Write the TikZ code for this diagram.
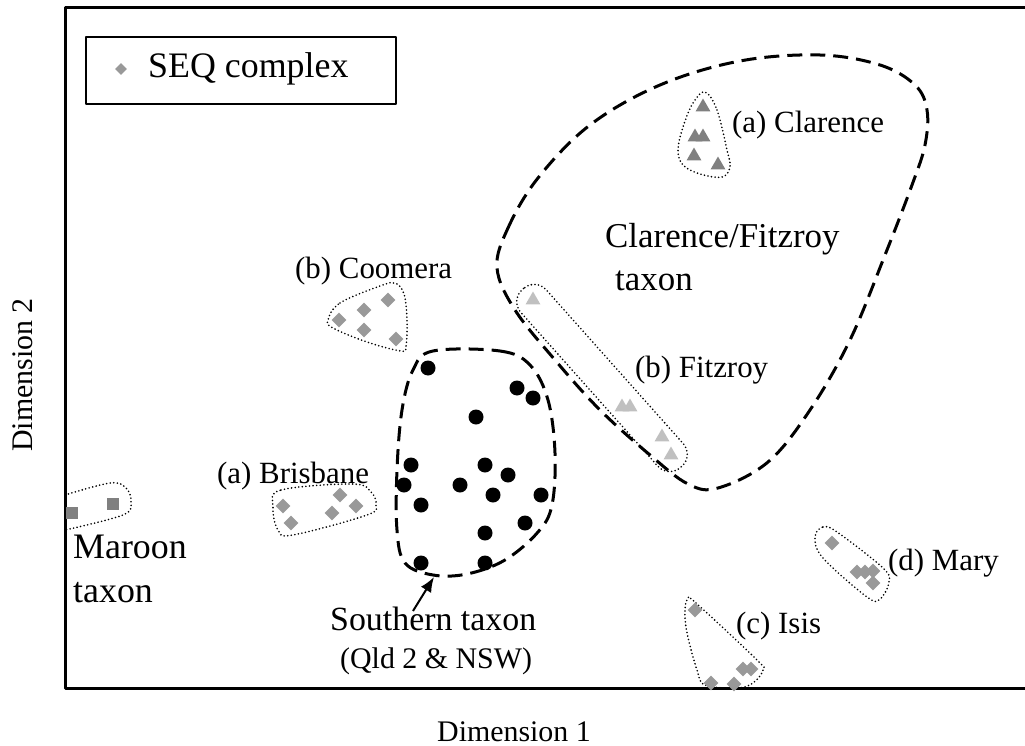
\documentclass[tikz,border=0pt]{standalone}
\usepackage{fontspec}
\setmainfont{Liberation Serif}
\usetikzlibrary{shapes.geometric,arrows.meta}
\definecolor{darkmark}{HTML}{808080}
\definecolor{midmark}{HTML}{999999}
\definecolor{lightmark}{HTML}{C0C0C0}
\tikzset{
  seqmark/.style={diamond,fill=midmark,inner sep=0pt,minimum size=15bp},
  trimark/.style={regular polygon,regular polygon sides=3,inner sep=0pt,minimum size=17bp},
  sqmark/.style={rectangle,fill=darkmark,inner sep=0pt,minimum size=12.5bp},
  dotmark/.style={circle,fill=black,inner sep=0pt,minimum size=15bp},
  grplbl/.style={anchor=base west,inner sep=0pt,font=\fontsize{31}{37}\selectfont},
  taxlbl/.style={anchor=base west,inner sep=0pt,font=\fontsize{35}{42}\selectfont},
  grpline/.style={line width=1.8bp,line cap=round,dash pattern=on 0bp off 3.6bp},
  taxline/.style={line width=3bp,dash pattern=on 15bp off 8bp},
}
\begin{document}
\begin{tikzpicture}[x=1bp,y=-1bp,>=latex,line join=round]
\useasboundingbox (0,0) rectangle (1025,746);
%% frame and legend
\draw [line width=3bp] (1025,8) -- (65,8) -- (65,688) -- (1025,688);
\node (legend) at (241,70.5) [draw,line width=2.5bp,minimum width=310bp,minimum height=67bp] {};
\node (legend_mark) at (121,69) [seqmark,minimum size=12bp] {};
\node (lbl_seq) at (148,78) [anchor=base west,inner sep=0pt,font=\fontsize{36}{43}\selectfont] {SEQ complex};
%% axis titles
\node (axis_x) at (437,741) [anchor=base west,inner sep=0pt,font=\fontsize{30}{36}\selectfont] {Dimension 1};
\node (axis_y) at (32,375) [anchor=base,rotate=90,inner sep=0pt,font=\fontsize{30}{36}\selectfont] {Dimension 2};
%% taxon outlines
\draw [taxline] plot [smooth cycle,tension=0.6] coordinates {(497,268) (508,228) (538,178) (590,125) (660,85) (740,61) (820,55) (880,65) (915,85) (927,110) (925,145) (912,185) (885,255) (850,340) (810,410) (768,462) (718,488) (688,484) (650,455) (600,410) (555,360) (515,310)};
\draw [taxline] plot [smooth cycle,tension=0.6] coordinates {(433,351) (500,351) (530,365) (548,400) (555,453) (552,505) (538,532) (505,560) (467,574) (433,575) (405,563) (397,530) (397,470) (402,410) (413,370)};
%% group outlines
\draw [grpline] plot [smooth cycle,tension=0.6] coordinates {(705,92) (717,110) (727,150) (730,167) (722,177) (700,174) (683,165) (678,150) (683,127) (693,103)};
\draw [grpline] plot [smooth cycle,tension=0.6] coordinates {(328,320) (340,303) (380,286) (395,283) (404,294) (407,320) (406,346) (401,351) (367,342) (333,328)};
\draw [grpline] plot [smooth cycle,tension=0.6] coordinates {(273,507) (281,490) (353,484) (371,492) (376,505) (367,515) (293,535) (278,530)};
\draw [grpline] plot [smooth,tension=0.6] coordinates {(65,495) (110,483) (126,488) (131,502) (123,515) (65,530)};
\draw [grpline] plot [smooth cycle,tension=0.6] coordinates {(815,537) (823,527) (837,532) (883,568) (889,582) (880,599) (867,597) (823,558)};
\draw [grpline] plot [smooth cycle,tension=0.6] coordinates {(688,599) (696,603) (757,660) (763,670) (753,683) (737,688) (705,685) (697,670) (687,633) (685,610)};
\draw [grpline,rotate around={-48.3:(602,378)},rounded corners=16bp] (483,361) rectangle (721,395);
%% markers
\foreach \x/\y [count=\i] in {703/107, 695/137, 703/137, 694/156, 718/165}
  \node (clar_\i) at (\x,\y) [trimark,fill=darkmark] {};
\foreach \x/\y [count=\i] in {533/300, 622/407, 630/407, 662/437, 671/455}
  \node (fitz_\i) at (\x,\y) [trimark,fill=lightmark] {};
\foreach \x/\y [count=\i] in {388/300, 364/310, 339/320, 364/330, 396/339}
  \node (coom_\i) at (\x,\y) [seqmark] {};
\foreach \x/\y [count=\i] in {283/506, 291/523, 340/495, 332/513, 356/506}
  \node (bris_\i) at (\x,\y) [seqmark] {};
\foreach \x/\y [count=\i] in {832/543, 857/572, 865/572, 873/571, 873/583}
  \node (mary_\i) at (\x,\y) [seqmark] {};
\foreach \x/\y [count=\i] in {695/610, 711/683, 734/684, 743/669, 751/669}
  \node (isis_\i) at (\x,\y) [seqmark] {};
\foreach \x/\y [count=\i] in {72/513, 113/504}
  \node (mar_\i) at (\x,\y) [sqmark] {};
\foreach \x/\y [count=\i] in {428/368, 517/388, 533/398, 476/417, 411/465, 485/465, 508/475, 404/485, 460/485, 493/495, 541/495, 421/505, 525/523, 485/533, 421/563, 485/563}
  \node (sth_\i) at (\x,\y) [dotmark] {};
%% labels
\node (lbl_clar) at (732,132) [grplbl] {(a) Clarence};
\node (lbl_cf) at (605,247) [taxlbl] {Clarence/Fitzroy};
\node (lbl_cf_b) at (615,290) [taxlbl] {taxon};
\node (lbl_coom) at (295,278) [grplbl] {(b) Coomera};
\node (lbl_fitz) at (635,377) [grplbl] {(b) Fitzroy};
\node (lbl_bris) at (217,483) [grplbl] {(a) Brisbane};
\node (lbl_mar) at (73,558) [taxlbl,font=\fontsize{36}{43}\selectfont] {Maroon};
\node (lbl_mar_b) at (73,602) [taxlbl,font=\fontsize{36}{43}\selectfont] {taxon};
\node (lbl_sth) at (330,630) [taxlbl,font=\fontsize{34}{41}\selectfont] {Southern taxon};
\node (lbl_sth_b) at (340,668) [grplbl,font=\fontsize{30}{36}\selectfont] {(Qld 2 \& NSW)};
\node (lbl_mary) at (888,570) [grplbl] {(d) Mary};
\node (lbl_isis) at (736,633) [grplbl] {(c) Isis};
%% arrow to southern outline
\coordinate (sth_tail) at (413,611);
\coordinate (sth_tip) at (434,577);
\draw [line width=2bp,-{Latex[length=15bp,width=12bp]}] (sth_tail) -- (sth_tip);
%
\end{tikzpicture}
\end{document}
